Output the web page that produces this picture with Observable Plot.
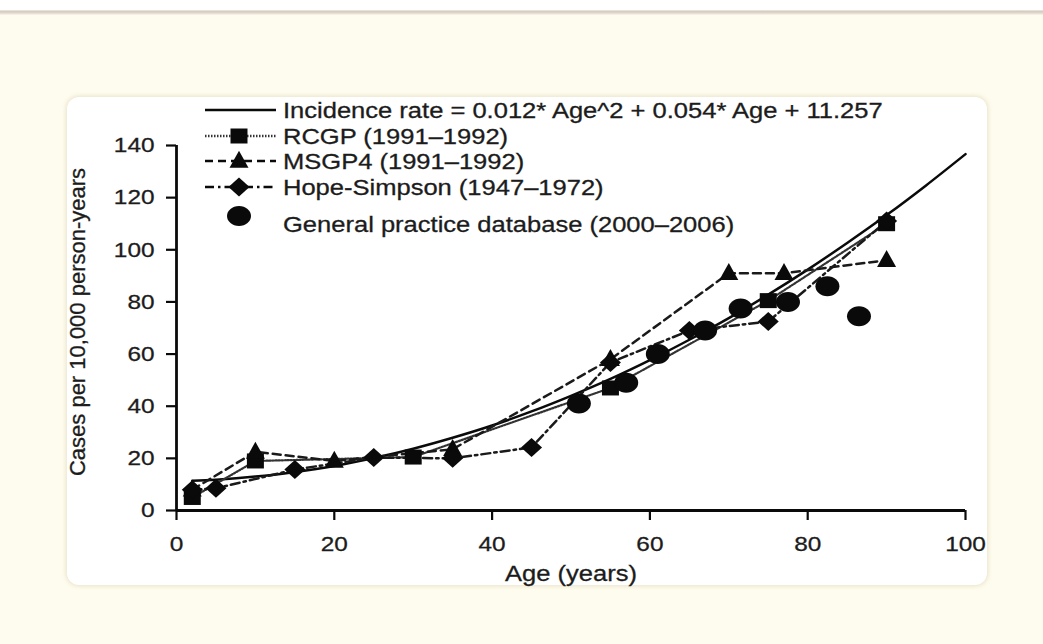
<!DOCTYPE html>
<html>
<head>
<meta charset="utf-8">
<script src="https://cdn.jsdelivr.net/npm/d3@7"></script>
<script src="https://cdn.jsdelivr.net/npm/@observablehq/plot@0.6"></script>
<style>
html, body { margin: 0; padding: 0; }
body { width: 1043px; height: 644px; background: #fefcee; position: relative; overflow: hidden;
  font-family: "Liberation Sans", Arial, sans-serif; }
#topstrip { position: absolute; left: 0; top: 0; width: 1043px; height: 10px; background: #fff; }
#rule { position: absolute; left: 0; top: 10px; width: 1043px; height: 5px;
  background: linear-gradient(#efe9e0, #d3cbc1, #e4ddd2, #fbf8ec); }
#panel { position: absolute; left: 67px; top: 97px; width: 920px; height: 488px; background: #fff;
  border-radius: 12px; box-shadow: 0 0 4px 1px rgba(225, 215, 185, 0.7); }
#chart { position: absolute; left: 0; top: 0; }
#legend { position: absolute; left: 0; top: 0; }
</style>
</head>
<body>
<div id="topstrip"></div>
<div id="rule"></div>
<div id="panel"></div>
<div id="chart"></div>
<svg id="legend" width="1043" height="260"></svg>
<script>
// ---- data ----
const fitAge  = [2, 5, 10, 15, 20, 25, 30, 35, 40, 45, 50, 55, 60, 65, 70, 75, 80, 85, 90, 95, 100];
const fitRate = [11.4, 11.8, 13.0, 14.8, 17.1, 20.1, 23.7, 27.9, 32.6, 38.0, 44.0, 50.5, 57.7, 65.5, 73.8, 82.8, 92.4, 102.6, 113.3, 124.7, 136.7];

const rcgpAge  = [2, 10, 30, 55, 75, 90];
const rcgpRate = [5, 19, 20.5, 47, 80.5, 110];

const msgpAge  = [2, 10, 20, 35, 55, 70, 77, 90];
const msgpRate = [8, 22.5, 19, 23.5, 58, 91, 91, 96];

const hopeAge  = [2, 5, 15, 25, 35, 45, 55, 65, 75, 90];
const hopeRate = [8, 8.5, 15.7, 20.3, 20, 24.2, 56.8, 69, 72.5, 111];

const gpdAge  = [51, 57, 61, 67, 71.5, 77.5, 82.5, 86.5];
const gpdRate = [41, 49, 60, 69, 77.5, 80, 86, 74.5];

const xTicks = [0, 20, 40, 60, 80, 100];
const yTicks = [0, 20, 40, 60, 80, 100, 120, 140];

const xLabel = "Age (years)";
const yLabel = "Cases per 10,000 person-years";
const legendLabels = [
  "Incidence rate = 0.012* Age^2 + 0.054* Age + 11.257",
  "RCGP (1991\u20131992)",
  "MSGP4 (1991\u20131992)",
  "Hope-Simpson (1947\u20131972)",
  "General practice database (2000\u20132006)"
];

// ---- tables ----
const zip = (a, b) => a.map((v, i) => ({age: v, rate: b[i]}));
const fit = zip(fitAge, fitRate);
const rcgp = zip(rcgpAge, rcgpRate);
const msgp = zip(msgpAge, msgpRate);
const hope = zip(hopeAge, hopeRate);
const gpd = zip(gpdAge, gpdRate);

// ---- slightly wide marker shapes (the reference is stretched horizontally) ----
const K = 0.5523;
const ellipse = (w, h) => ({draw(c) {
  const rx = w / 2, ry = h / 2;
  c.moveTo(rx, 0);
  c.bezierCurveTo(rx, ry * K, rx * K, ry, 0, ry);
  c.bezierCurveTo(-rx * K, ry, -rx, ry * K, -rx, 0);
  c.bezierCurveTo(-rx, -ry * K, -rx * K, -ry, 0, -ry);
  c.bezierCurveTo(rx * K, -ry, rx, -ry * K, rx, 0);
  c.closePath();
}});
const rect = (w, h) => ({draw(c) { c.rect(-w / 2, -h / 2, w, h); }});
const tri = (w, h) => ({draw(c) {
  c.moveTo(0, -h * 0.6); c.lineTo(w / 2, h * 0.4); c.lineTo(-w / 2, h * 0.4); c.closePath();
}});
const rhomb = (w, h) => ({draw(c) {
  c.moveTo(0, -h / 2); c.lineTo(w / 2, 0); c.lineTo(0, h / 2); c.lineTo(-w / 2, 0); c.closePath();
}});
const symSquare = rect(17, 15);
const symTri = tri(19, 17);
const symDiamond = rhomb(21, 19);
const symCircle = ellipse(24, 20);

const ink = "#0a0a0a";
const textInk = "#1c1c1c";

const chart = Plot.plot({
  width: 1043,
  height: 644,
  marginLeft: 176,
  marginRight: 78,
  marginTop: 145,
  marginBottom: 134,
  style: {background: "transparent", fontFamily: "'Liberation Sans', Arial, sans-serif", color: "#222"},
  x: {domain: [0, 100]},
  y: {domain: [0, 140]},
  marks: [
    Plot.axisX({ticks: xTicks, tickSize: 10, tickPadding: 16, fontSize: 21, label: null,
      stroke: ink, strokeWidth: 2.2, fill: textInk}),
    Plot.axisY({ticks: yTicks, tickSize: 10, tickPadding: 12, fontSize: 21, label: null,
      stroke: ink, strokeWidth: 2.2, fill: textInk}),
    Plot.ruleY([0], {stroke: ink, strokeWidth: 2.8}),
    Plot.ruleX([0], {y1: 0, y2: 140, stroke: ink, strokeWidth: 2.8}),
    Plot.text([xLabel], {text: d => d, frameAnchor: "bottom", dy: 70, fontSize: 22, fill: textInk}),
    Plot.text([yLabel], {text: d => d, frameAnchor: "left", textAnchor: "middle", dx: -99, dy: -6,
      rotate: -90, fontSize: 22, fill: textInk}),
    Plot.line(fit, {x: "age", y: "rate", curve: "catmull-rom", stroke: ink, strokeWidth: 2.5}),
    Plot.line(rcgp, {x: "age", y: "rate", stroke: "#333", strokeWidth: 2.2, strokeDasharray: "1.5,1.5"}),
    Plot.line(msgp, {x: "age", y: "rate", stroke: "#1a1a1a", strokeWidth: 2.5, strokeDasharray: "8,5"}),
    Plot.line(hope, {x: "age", y: "rate", stroke: "#1a1a1a", strokeWidth: 2.5, strokeDasharray: "9,4,2.5,4"}),
    Plot.dot(rcgp, {x: "age", y: "rate", symbol: symSquare, fill: ink, stroke: "none"}),
    Plot.dot(msgp, {x: "age", y: "rate", symbol: symTri, fill: ink, stroke: "none"}),
    Plot.dot(hope, {x: "age", y: "rate", symbol: symDiamond, fill: ink, stroke: "none"}),
    Plot.dot(gpd, {x: "age", y: "rate", symbol: symCircle, fill: ink, stroke: "none"})
  ]
});
document.getElementById("chart").appendChild(chart);

// horizontal stretch of the horizontal texts, as in the reference
const STRETCH = 1.16;
function stretch(t) {
  const w = t.getComputedTextLength();
  if (w > 0) {
    t.setAttribute("textLength", (w * STRETCH).toFixed(1));
    t.setAttribute("lengthAdjust", "spacingAndGlyphs");
  }
}
chart.querySelectorAll("text").forEach(t => {
  t.setAttribute("stroke", textInk);
  t.setAttribute("stroke-width", "0.3");
  if (t.textContent === yLabel) return;
  stretch(t);
});

// ---- legend (drawn in its own small svg) ----
const lg = d3.select("#legend");
const rows = [110, 136, 161, 187, 224];
const lx0 = 205, lx1 = 276, lcx = 239, tx = 283;
const dashes = [null, "1.5,1.5", "8,5", "9,4,2.5,4"];
const syms = [null, symSquare, symTri, symDiamond];
legendLabels.forEach((lab, i) => {
  const y = rows[i];
  if (i < 4) {
    lg.append("line").attr("x1", lx0).attr("x2", lx1).attr("y1", y).attr("y2", y)
      .attr("stroke", i === 1 ? "#333" : ink).attr("stroke-width", i === 0 ? 2.5 : 2.4)
      .attr("stroke-dasharray", dashes[i]);
  }
  if (i >= 1) {
    const s = i === 4 ? symCircle : syms[i];
    const p = d3.path(); s.draw(p);
    lg.append("path").attr("d", p.toString())
      .attr("transform", `translate(${lcx},${i === 4 ? 216 : y})`).attr("fill", ink);
  }
  const t = lg.append("text").attr("x", tx).attr("y", y).attr("dy", "0.36em")
    .attr("font-size", 22).attr("fill", textInk).attr("stroke", textInk).attr("stroke-width", 0.3)
    .attr("font-family", "'Liberation Sans', Arial, sans-serif").text(lab);
  stretch(t.node());
});
</script>
</body>
</html>
